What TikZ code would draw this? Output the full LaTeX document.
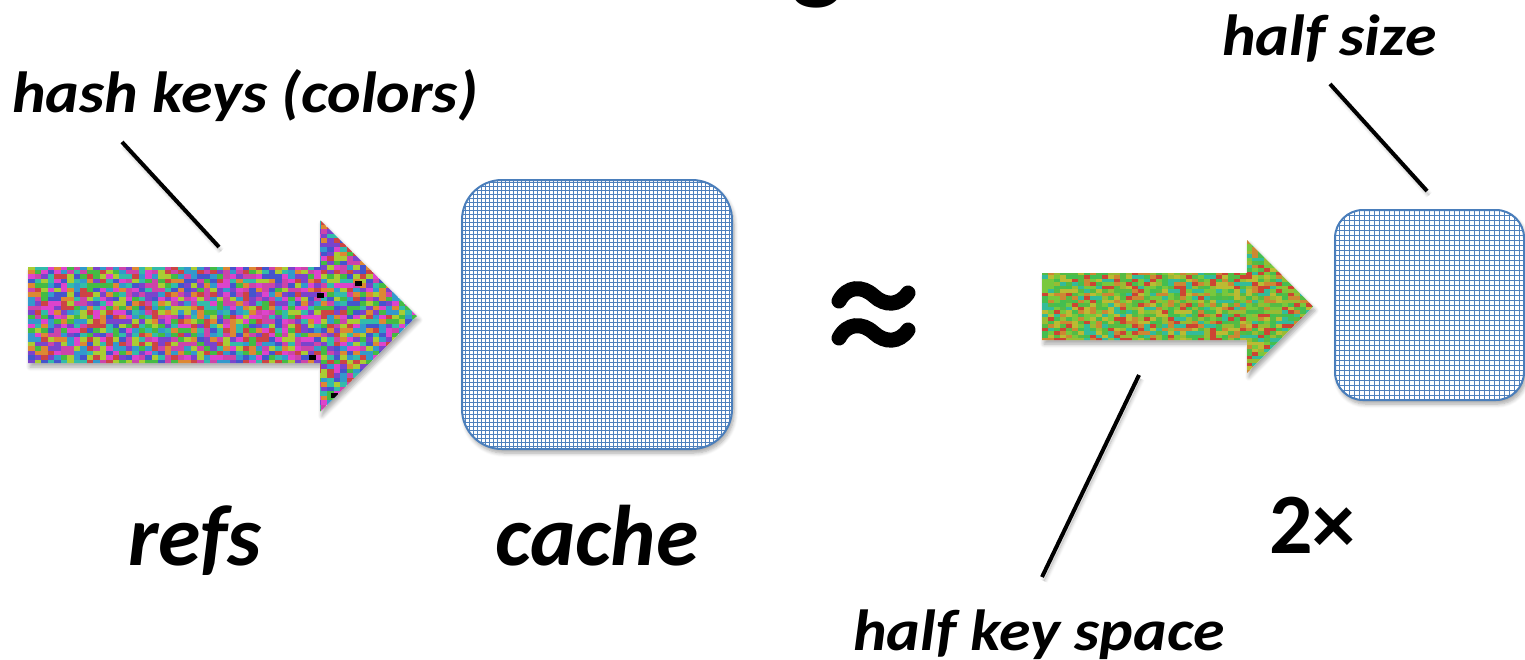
\documentclass[tikz,border=0pt]{standalone}
\usepackage{fontspec}
\setmainfont{Carlito}
\usetikzlibrary{shadows.blur}

% mosaic colours of the full key stream
\definecolor{lc0}{RGB}{204,68,68}
\definecolor{lc1}{RGB}{204,68,170}
\definecolor{lc2}{RGB}{122,68,204}
\definecolor{lc3}{RGB}{68,85,204}
\definecolor{lc4}{RGB}{51,153,204}
\definecolor{lc5}{RGB}{51,187,170}
\definecolor{lc6}{RGB}{68,187,68}
\definecolor{lc7}{RGB}{170,204,51}
\definecolor{lc8}{RGB}{221,136,51}
\definecolor{lc9}{RGB}{221,68,204}
% mosaic colours of the half key stream
\definecolor{rc0}{RGB}{85,187,68}
\definecolor{rc1}{RGB}{153,187,51}
\definecolor{rc2}{RGB}{187,187,51}
\definecolor{rc3}{RGB}{204,136,51}
\definecolor{rc4}{RGB}{204,68,51}
\definecolor{rc5}{RGB}{51,187,153}
\definecolor{rc6}{RGB}{68,190,80}
\definecolor{rc7}{RGB}{120,200,60}
\definecolor{gridblue}{RGB}{79,129,189}
\definecolor{edgeblue}{RGB}{74,126,187}

\newcommand{\widetext}[1]{\scalebox{1.1}[1]{#1}}

\tikzset{
  soft/.style={blur shadow={shadow xshift=2pt, shadow yshift=-4pt,
      shadow blur steps=6, shadow blur radius=4pt, shadow opacity=35}},
  gridbox/.style={draw=edgeblue, line width=2pt, fill=white, rounded corners=#1,
      inner sep=0pt, soft},
  label/.style={inner sep=0pt, font=\fontsize{58}{62}\selectfont\bfseries\itshape},
  biglabel/.style={inner sep=0pt, font=\fontsize{86}{90}\selectfont\bfseries\itshape},
  pointer/.style={line width=4pt, black},
}

\begin{document}
\begin{tikzpicture}[x=1pt,y=-1pt]
\useasboundingbox (0,0) rectangle (1525,659);

% cut-off heading above
\node[inner sep=0pt, anchor=base, font=\fontsize{110}{110}\selectfont\bfseries] (head) at (818,-11) {g};

% ---- full key stream arrow ----
\def\leftarrow{(28,267) -- (320,267) -- (320,220) -- (417,316) -- (320,412) -- (320,363) -- (28,363) -- cycle}
\fill[white, soft] \leftarrow;
\begin{scope}
  \clip \leftarrow;
  \pgfmathsetseed{4242}
  \foreach \i in {0,...,60}{
    \foreach \j in {0,...,43}{
      \pgfmathrandominteger{\k}{0}{9}
      \fill[lc\k] (28+\i*6.5,220+\j*4.5) rectangle ++(6.6,4.6);
    }
  }
  \fill[black] (355,281) rectangle ++(7,4.5);
  \fill[black] (317,293) rectangle ++(7,4.5);
  \fill[black] (309,355) rectangle ++(7,4.5);
  \fill[black] (331,393) rectangle ++(7,4.5);
\end{scope}

% ---- half key stream arrow ----
\def\rightarrow{(1042,273) -- (1247,273) -- (1247,240) -- (1313,306.5) -- (1247,373) -- (1247,340) -- (1042,340) -- cycle}
\fill[white, soft] \rightarrow;
\begin{scope}
  \clip \rightarrow;
  \pgfmathsetseed{777}
  \foreach \i in {0,...,46}{
    \foreach \j in {0,...,38}{
      \pgfmathrandominteger{\k}{0}{7}
      \fill[rc\k] (1042+\i*6,240+\j*3.5) rectangle ++(6.1,3.6);
    }
  }
\end{scope}

% ---- caches ----
\node[gridbox=40pt, minimum width=270pt, minimum height=269pt,
  path picture={\draw[gridblue, line width=0.85pt, step=4pt]
    (path picture bounding box.south west) grid (path picture bounding box.north east);}]
  (cache) at (597,314.5) {};
\node[gridbox=28pt, minimum width=189pt, minimum height=190pt,
  path picture={\draw[gridblue, line width=0.9pt, step=5pt]
    (path picture bounding box.south west) grid (path picture bounding box.north east);}]
  (small) at (1429.5,305) {};

% ---- approximately equal ----
\begin{scope}[line width=15pt, line cap=round]
  \draw (839,301) .. controls (847,286) and (862,285) .. (874,296)
                  .. controls (885,306) and (899,306) .. (908,293);
  \draw (839,338) .. controls (847,323) and (862,322) .. (874,333)
                  .. controls (885,343) and (899,343) .. (908,330);
\end{scope}

% ---- labels ----
\node[label, anchor=base west] (keys) at (12,112) {\widetext{hash keys (colors)}};
\node[label, anchor=base west] (half) at (1222,55) {\widetext{half size}};
\node[label, anchor=base west] (space) at (853,650) {\widetext{half key space}};
\node[biglabel, anchor=base west] (refs) at (128,565) {refs};
\node[biglabel, anchor=base west] (cachetxt) at (495,565) {cache};
\node[inner sep=0pt, anchor=base west, font=\fontsize{86}{90}\selectfont\bfseries] (twice) at (1269,553) {2×};

% ---- pointers ----
\coordinate (keys-a) at (122,142);
\coordinate (keys-b) at (219,247);
\coordinate (half-a) at (1330,84);
\coordinate (half-b) at (1427,191);
\coordinate (space-a) at (1139,375);
\coordinate (space-b) at (1042,577);
\draw[pointer, soft] (keys-a) -- (keys-b);
\draw[pointer, soft] (half-a) -- (half-b);
\draw[pointer, soft] (space-a) -- (space-b);
\end{tikzpicture}
\end{document}
